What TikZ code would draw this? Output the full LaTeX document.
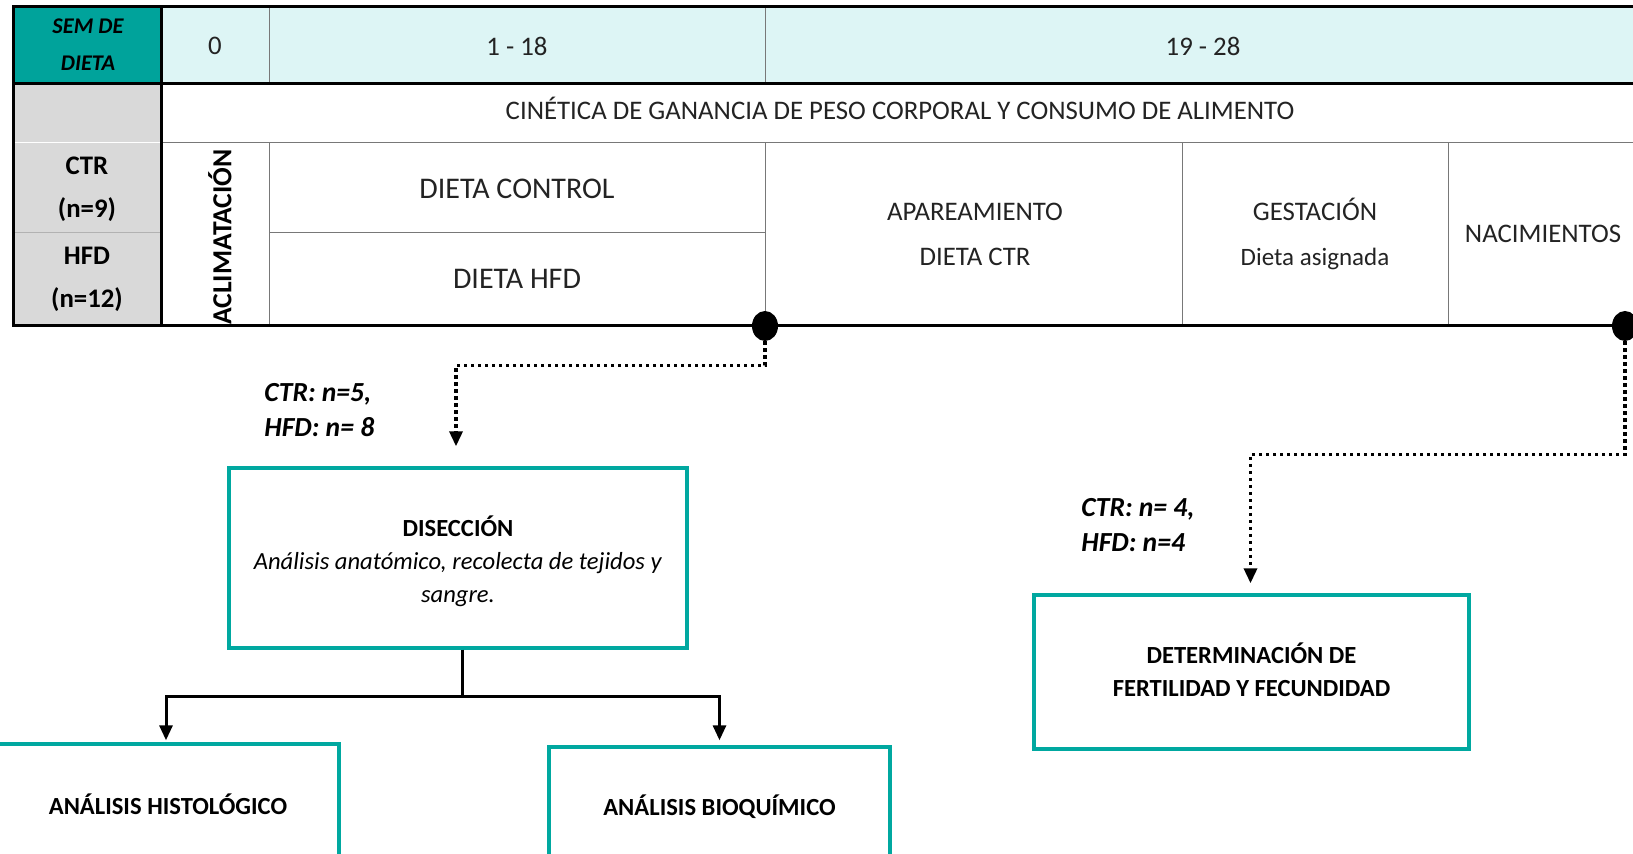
\documentclass[tikz,border=0pt]{standalone}
\usepackage{fontspec}
\setmainfont{Carlito}
\usetikzlibrary{arrows.meta,calc,shapes.geometric}
\definecolor{tealhead}{RGB}{0,163,155}
\definecolor{cyanlight}{RGB}{221,245,245}
\definecolor{graycell}{RGB}{217,217,217}
\definecolor{boxteal}{RGB}{0,168,160}
\definecolor{thingray}{RGB}{120,120,120}
\definecolor{txtgray}{RGB}{35,35,35}
\tikzset{
  thickrule/.style={line width=1.5pt, black},
  thinrule/.style={line width=0.5pt, thingray},
  tbltext/.style={font=\fontsize{13.4}{22.5}\selectfont, text=txtgray, align=center, inner sep=0pt},
  bigtext/.style={font=\fontsize{15}{22.5}\selectfont, text=txtgray, align=center, inner sep=0pt},
  tblbold/.style={font=\bfseries\fontsize{13.4}{21.5}\selectfont, text=black, align=center, inner sep=0pt},
  semtext/.style={font=\bfseries\itshape\fontsize{11.2}{18.5}\selectfont, text=black, align=center, inner sep=0pt},
  timedot/.style={ellipse, fill=black, minimum width=13pt, minimum height=15pt, inner sep=0pt},
  tealbox/.style={draw=boxteal, line width=1.7pt, rectangle, inner sep=0pt},
  boxtext/.style={font=\fontsize{12.3}{16.5}\selectfont, text=black, align=center, inner sep=0pt},
  ntext/.style={font=\bfseries\itshape\fontsize{13.8}{17.5}\selectfont, text=black, align=left, inner sep=0pt, anchor=west},
  dotconn/.style={line width=1.7pt, black, dash pattern=on 1.7pt off 1.8pt, -{Triangle[width=6.5pt,length=7.5pt]}},
  solidline/.style={line width=1.5pt, black},
  solidarrow/.style={line width=1.5pt, black, -{Triangle[width=6.5pt,length=7.5pt]}},
}
\begin{document}
\begin{tikzpicture}[x=0.5pt,y=-0.5pt]
\useasboundingbox (0,0) rectangle (1633,854);
% fills
\fill[tealhead] (13,7) rectangle (161,84);
\fill[cyanlight] (161,7) rectangle (1640,84);
\fill[graycell] (13,84) rectangle (161,326);
% thin rules
\draw[thinrule] (269,7) -- (269,84);
\draw[thinrule] (765,7) -- (765,84);
\draw[thinrule] (161,143) -- (1640,143);
\draw[line width=0.5pt, white] (13,143) -- (161,143);
\draw[thinrule, gray!60] (13,233) -- (161,233);
\draw[thinrule] (269,143) -- (269,326);
\draw[thinrule] (765,143) -- (765,326);
\draw[thinrule] (1182,143) -- (1182,326);
\draw[thinrule] (1448,143) -- (1448,326);
\draw[thinrule] (269,233) -- (765,233);
% thick rules
\draw[thickrule] (1640,7) -- (13,7) -- (13,326) -- (1640,326);
\draw[thickrule] (13,84) -- (1640,84);
\draw[thickrule] (161,7) -- (161,326);
% table texts
\node[semtext] (sem) at (88,45) {SEM DE\\DIETA};
\node[tbltext] (w0) at (215,46) {0};
\node[tbltext] (w1) at (517,46) {1 - 18};
\node[tbltext] (w2) at (1203,46) {19 - 28};
\node[tbltext] (cin) at (900,108) {CINÉTICA DE GANANCIA DE PESO CORPORAL Y CONSUMO DE ALIMENTO};
\node[tblbold] (ctr) at (87,189) {CTR\\(n=9)};
\node[tblbold] (hfd) at (87,279) {HFD\\(n=12)};
\node[tblbold, font=\bfseries\fontsize{13.8}{21.5}\selectfont, rotate=90] (acl) at (220,237) {ACLIMATACIÓN};
\node[bigtext] (dctr) at (517,189) {DIETA CONTROL};
\node[bigtext] (dhfd) at (517,279) {DIETA HFD};
\node[tbltext] (apa) at (975,234) {APAREAMIENTO\\DIETA CTR};
\node[tbltext, font=\fontsize{13.4}{22.5}\selectfont] (ges) at (1315,234) {GESTACIÓN\\\fontsize{12.5}{22.5}\selectfont Dieta asignada};
\node[tbltext] (nac) at (1543,234) {NACIMIENTOS};
% timeline dots
\node[timedot] (dot1) at (765,326) {};
\node[timedot] (dot2) at (1625,326) {};
% boxes
\node[tealbox, minimum width=229pt, minimum height=90pt] (disec) at (458,558) {};
\node[boxtext] (disectxt) at (458,561) {\textbf{DISECCIÓN}\\\textit{Análisis anatómico, recolecta de tejidos y}\\\textit{sangre.}};
\node[tealbox, minimum width=171pt, minimum height=80pt] (hist) at (168,824) {};
\node[boxtext, font=\bfseries\fontsize{12.3}{16.5}\selectfont] (histtxt) at (168,804) {ANÁLISIS HISTOLÓGICO};
\node[tealbox, minimum width=170.5pt, minimum height=80pt] (bioq) at (719.5,827) {};
\node[boxtext, font=\bfseries\fontsize{12.3}{16.5}\selectfont] (bioqtxt) at (719.5,807) {ANÁLISIS BIOQUÍMICO};
\node[tealbox, minimum width=217.5pt, minimum height=77pt] (det) at (1251.5,672) {};
\node[boxtext, font=\bfseries\fontsize{12.3}{16.5}\selectfont] (dettxt) at (1251.5,670) {DETERMINACIÓN DE\\FERTILIDAD Y FECUNDIDAD};
% n labels
\node[ntext] (n1) at (264,410) {CTR: n=5,\\HFD: n= 8};
\node[ntext] (n2) at (1081,525) {CTR: n= 4,\\HFD: n=4};
% connectors
\coordinate (e1) at ($(disec.north)+(-2,-20)$);
\draw[dotconn] (dot1.south) -- ++(0,24) -| (e1);
\coordinate (e2) at ($(det.north)+(-1,-10)$);
\draw[dotconn] (dot2.south) -- ++(0,113) -| (e2);
\coordinate (br) at ($(disec.south)+(4,47)$);
\draw[solidline] ($(disec.south)+(4,0)$) -- (br);
\draw[solidarrow] (br) -| ($(hist.north)+(-2,-2)$);
\draw[solidarrow] (br) -| ($(bioq.north)+(0,-5)$);
\end{tikzpicture}
\end{document}
